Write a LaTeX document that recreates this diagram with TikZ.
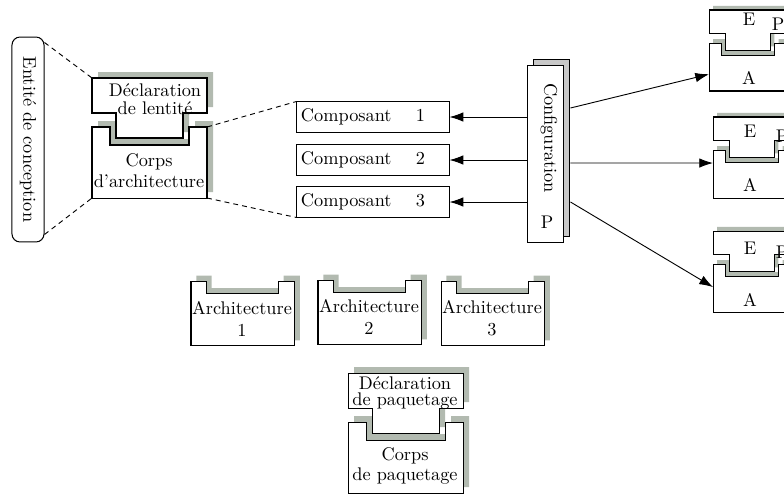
\documentclass[tikz,border=0pt]{standalone}
\usepackage{fontspec}
\usetikzlibrary{arrows.meta,calc}
\definecolor{shadegreen}{RGB}{178,186,176}
\definecolor{shadegray}{RGB}{200,200,200}
\tikzset{
  plain/.style    = {draw, fill=white, line width=0.55pt},
  compbox/.style  = {plain, minimum width=83pt, minimum height=16.4pt,
                     text width=78.7pt, inner sep=2.2pt, align=left},
  entbox/.style   = {draw, line width=0.55pt, rounded corners=4.4pt,
                     minimum width=112pt, minimum height=17.5pt, rotate=-90},
  cfgbox/.style   = {plain, minimum width=20.2pt, minimum height=96.2pt},
  link/.style     = {line width=0.5pt, dash pattern=on 2.7pt off 2.2pt},
  call/.style     = {line width=0.5pt, -{Latex[length=7.5pt,width=5.2pt]}},
  twolines/.style = {align=center, font=\fontsize{10}{#1}\selectfont},
  entunit/.pic    = {
    \fill [shadegreen, shift={(6,-6)}] (0,0) -- (115,0) -- (115,35) -- (91,35)
      -- (91,60) -- (24,60) -- (24,35) -- (0,35) -- cycle;
    \fill [shadegreen, shift={(6,-6)}] (0,49) -- (18,49) -- (18,67) -- (97,67)
      -- (97,49) -- (115,49) -- (115,120) -- (0,120) -- cycle;
    \path [plain] (0,0) -- (115,0) -- (115,35) -- (91,35)
      -- (91,60) -- (24,60) -- (24,35) -- (0,35) -- cycle;
    \path [plain] (0,49) -- (18,49) -- (18,67) -- (97,67)
      -- (97,49) -- (115,49) -- (115,120) -- (0,120) -- cycle;
    \coordinate (-etl) at (0,0);
    \coordinate (-btl) at (0,49);
    \coordinate (-btr) at (115,49);
    \coordinate (-bbl) at (0,120);
    \coordinate (-bbr) at (115,120);
  },
  archunit/.pic   = {
    \fill [shadegreen, shift={(6,-6)}] (0,0) -- (17,0) -- (17,14) -- (97,14)
      -- (97,0) -- (115,0) -- (115,72) -- (0,72) -- cycle;
    \path [plain] (0,0) -- (17,0) -- (17,14) -- (97,14)
      -- (97,0) -- (115,0) -- (115,72) -- (0,72) -- cycle;
  }
}

\begin{document}
\begin{tikzpicture}
  [
    x                 = 0.5464pt,
    y                 = -0.5464pt,
    every node/.style = {font=\fontsize{10}{12}\selectfont}
  ]
  \useasboundingbox (0,0) rectangle (784,495);
  \clip (0,0) rectangle (784,495);

  \node [entbox] (ent) at (28,139.5) {Entité de conception};

  \pic (decl) at (92,78) {entunit};
  \node [twolines=9.8pt] (decltxt) at (155,99) {Déclaration\\de lentité};
  \node [twolines=11.5pt] (corpstxt) at (149,171) {Corps\\d'architecture};

  \node [compbox] (c1) at (373,117) {Composant \quad 1};
  \node [compbox] (c2) at (373,160) {Composant \quad 2};
  \node [compbox] (c3) at (373,202) {Composant \quad 3};

  \node [cfgbox, fill=shadegray] (cfgsh) at (551.5,148) {};
  \node [cfgbox] (cfg) at (545.5,154) {};
  \node [rotate=-90] (cfgtxt) at (549,138) {Configuration};
  \node (cfgp) at (547,222) {P};

  \draw [link] ($(ent.north west)+(0,6)$) -- (decl-etl);
  \draw [link] ($(ent.north east)+(0,-8)$) -- (decl-bbl);
  \draw [link] (decl-btr) -- (c1.north west);
  \draw [link] (decl-bbr) -- (c3.south west);

  \draw [call] (cfg.west |- c1.east) -- (c1.east);
  \draw [call] (cfg.west |- c2.east) -- (c2.east);
  \draw [call] (cfg.west |- c3.east) -- (c3.east);

  \pic [scale=0.675] (r1) at (709,10) {entunit};
  \pic [scale=0.675] (r2) at (713,117) {entunit};
  \pic [scale=0.675] (r3) at (713,231) {entunit};
  \node (r1e) at (749,19) {E};
  \node (r1p) at (778,24) {P};
  \node (r1a) at (749,78) {A};
  \node (r2e) at (750,131) {E};
  \node (r2p) at (782,136) {P};
  \node (r2a) at (750,185) {A};
  \node (r3e) at (750,248) {E};
  \node (r3p) at (782,252) {P};
  \node (r3a) at (750,300) {A};

  \draw [call] ($(cfgsh.east)+(0,-40)$) -- ($(r1-btl)!0.65!(r1-bbl)$);
  \draw [call] ($(cfgsh.east)+(0,15)$) -- ($(r2-btl)!0.27!(r2-bbl)$);
  \draw [call] ($(cfgsh.east)+(0,54)$) -- ($(r3-btl)!0.48!(r3-bbl)$);

  \pic [scale=0.9] (a1) at (191,281) {archunit};
  \pic [scale=0.9] (a2) at (318,280) {archunit};
  \pic [scale=0.9] (a3) at (441,281) {archunit};
  \node [twolines=12pt] (a1txt) at (242,318.5) {Architecture\\1};
  \node [twolines=12pt] (a2txt) at (369,317) {Architecture\\2};
  \node [twolines=12pt] (a3txt) at (492,318.5) {Architecture\\3};

  \pic (pkg) at (348,373) {entunit};
  \node [twolines=9pt] (pkgdecl) at (405,393) {Déclaration\\de paquetage};
  \node [twolines=11pt] (pkgbody) at (405,466) {Corps\\de paquetage};
\end{tikzpicture}
\end{document}
